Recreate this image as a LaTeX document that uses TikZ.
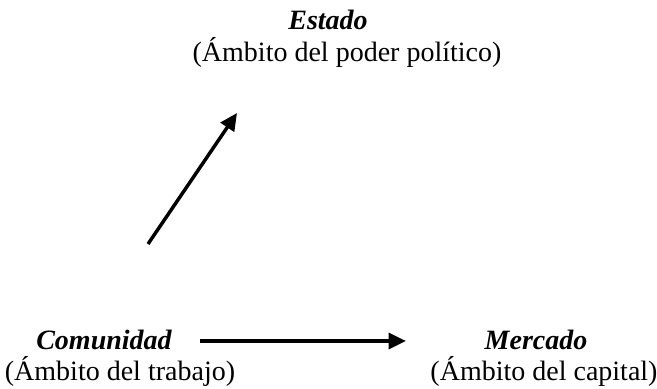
\documentclass[tikz,border=0pt]{standalone}
\usepackage{fontspec}
\setmainfont{Liberation Serif}
\usetikzlibrary{arrows.meta}

\tikzset{
  titulo/.style={font=\fontsize{21}{24}\selectfont\bfseries\itshape},
  ambito/.style={font=\fontsize{21}{24}\selectfont},
  flecha/.style={line width=2.6pt, -{Triangle[length=13pt,width=12pt]}}
}

\begin{document}
\begin{tikzpicture}[x=0.75pt,y=0.75pt]

  \useasboundingbox (0,0) rectangle (657,389);

  % Estado (arriba)
  \node[titulo] (estado) at (328,369) {Estado};
  \node[ambito] (estadoamb) at (347,337) {(Ámbito del poder político)};

  % Comunidad (abajo a la izquierda)
  \node[titulo] (comunidad) at (104,49) {Comunidad};
  \node[ambito] (comunidadamb) at (120,18) {(Ámbito del trabajo)};

  % Mercado (abajo a la derecha)
  \node[titulo] (mercado) at (536,49) {Mercado};
  \node[ambito] (mercadoamb) at (544,18) {(Ámbito del capital)};

  % Flechas
  \coordinate (inicio) at (148,145);
  \coordinate (fin) at (237,276);
  \draw[flecha] (inicio) -- (fin);
  \coordinate (izq) at (200,48);
  \coordinate (der) at (406,48);
  \draw[flecha] (izq) -- (der);

\end{tikzpicture}
\end{document}
